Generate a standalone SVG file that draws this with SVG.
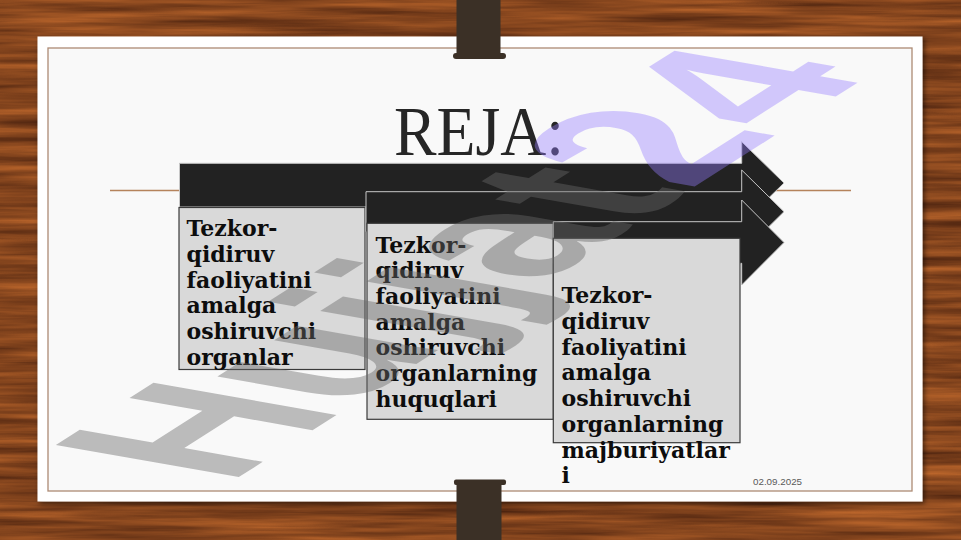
<svg xmlns="http://www.w3.org/2000/svg" width="961" height="540" viewBox="0 0 961 540">
  <defs>
    <filter id="wood" x="0" y="0" width="100%" height="100%" color-interpolation-filters="sRGB">
      <feTurbulence type="fractalNoise" baseFrequency="0.005 0.11" numOctaves="4" seed="7"/>
      <feColorMatrix type="matrix" values="0.6 0 0 0 0.22  0.36 0 0 0 0.09  0.15 0 0 0 0.04  0 0 0 0 1"/>
    </filter>
    <filter id="shadow" x="-5%" y="-5%" width="110%" height="110%">
      <feDropShadow dx="2" dy="2" stdDeviation="2.5" flood-color="#000" flood-opacity="0.55"/>
    </filter>
    <style>
      .arrow { fill: #222222; stroke: #c8c8c8; stroke-width: 1; }
      .box { fill: #d9d9d9; stroke: #3a3a3a; stroke-width: 1.2; }
      .lbl { font-family: "DejaVu Serif", "Liberation Serif", serif; font-weight: bold; font-size: 22px; fill: #0d0d0d; }
      .clip { fill: #3b3026; }
    </style>
  </defs>

  <!-- wood background -->
  <rect x="0" y="0" width="961" height="540" fill="#83461f"/>
  <rect x="0" y="0" width="961" height="540" filter="url(#wood)"/>

  <!-- slide card -->
  <rect x="37.5" y="36.5" width="885" height="465" fill="#ffffff" filter="url(#shadow)"/>
  <rect x="48" y="48" width="864" height="443" fill="#f9f9f9" stroke="#ad8a74" stroke-width="1.3"/>

  <!-- clips -->
  <g id="clip-top">
    <rect class="clip" x="456.5" y="0" width="44" height="56"/>
    <rect class="clip" x="453" y="53" width="53" height="6" rx="3"/>
  </g>
  <g id="clip-bottom">
    <rect class="clip" x="456.5" y="482" width="45" height="58"/>
    <rect class="clip" x="454" y="479.5" width="52" height="5.5" rx="2"/>
  </g>

  <!-- title -->
  <g id="title">
    <line x1="110" y1="190.5" x2="851" y2="190.5" stroke="#b5835c" stroke-width="1.3"/>
    <text x="394" y="155" font-family="Liberation Serif, Times New Roman, serif" font-size="70" fill="#262626" textLength="170" lengthAdjust="spacingAndGlyphs">REJA:</text>
  </g>

  <!-- node 1 -->
  <g id="node1">
    <path class="arrow" d="M179.5,163.3 H741.7 V141.7 L784,183 L741.7,224.3 V207 H179.5 Z"/>
    <rect class="box" x="179" y="207.5" width="186" height="162"/>
    <text class="lbl">
      <tspan x="186.5" y="236">Tezkor-</tspan>
      <tspan x="186.5" y="261.8">qidiruv</tspan>
      <tspan x="186.5" y="287.6">faoliyatini</tspan>
      <tspan x="186.5" y="313.4">amalga</tspan>
      <tspan x="186.5" y="339.2">oshiruvchi</tspan>
      <tspan x="186.5" y="365">organlar</tspan>
    </text>
  </g>

  <!-- node 2 -->
  <g id="node2">
    <path class="arrow" d="M366,191.7 H741.7 V170 L784,211.7 L741.7,253.4 V231.7 H366 Z"/>
    <rect class="box" x="367" y="223.3" width="186.3" height="196"/>
    <text class="lbl">
      <tspan x="375.5" y="252.7">Tezkor-</tspan>
      <tspan x="375.5" y="278.4">qidiruv</tspan>
      <tspan x="375.5" y="304">faoliyatini</tspan>
      <tspan x="375.5" y="329.7">amalga</tspan>
      <tspan x="375.5" y="355.4">oshiruvchi</tspan>
      <tspan x="375.5" y="381">organlarning</tspan>
      <tspan x="375.5" y="406.7">huquqlari</tspan>
    </text>
  </g>

  <!-- node 3 -->
  <g id="node3">
    <path class="arrow" d="M553.3,221.7 H741.7 V200 L784,242.5 L741.7,285 V263.3 H553.3 Z"/>
    <rect class="box" x="553.3" y="238.3" width="186.7" height="204.4"/>
    <text class="lbl">
      <tspan x="561.5" y="303.3">Tezkor-</tspan>
      <tspan x="561.5" y="329">qidiruv</tspan>
      <tspan x="561.5" y="354.7">faoliyatini</tspan>
      <tspan x="561.5" y="380.4">amalga</tspan>
      <tspan x="561.5" y="406.2">oshiruvchi</tspan>
      <tspan x="561.5" y="431.9">organlarning</tspan>
      <tspan x="561.5" y="457.6">majburiyatlar</tspan>
      <tspan x="561.5" y="483.3">i</tspan>
    </text>
  </g>

  <!-- date -->
  <text x="753" y="485" font-family="Liberation Sans, Arial, sans-serif" font-size="9.8" fill="#595959">02.09.2025</text>

  <!-- watermark -->
  <g id="watermark">
    <text transform="matrix(0.615 -0.392 0.985 0.173 227.7 484.2)" font-family="Liberation Sans, Arial, sans-serif" font-weight="bold" font-size="270"><tspan fill="#696969" fill-opacity="0.43">Hujjat</tspan><tspan fill="#967dff" fill-opacity="0.4">24</tspan></text>
  </g>
</svg>
